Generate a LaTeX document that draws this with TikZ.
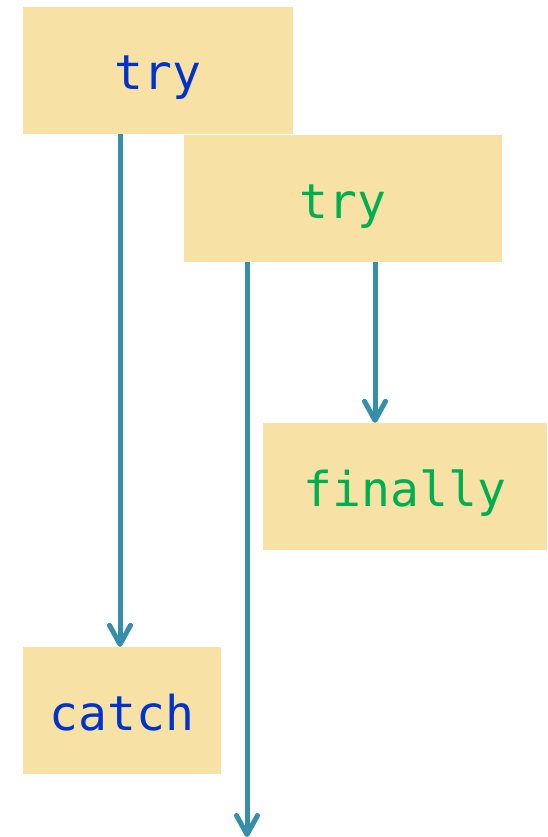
\documentclass[tikz,border=0pt]{standalone}
\usepackage{fontspec}
\newfontfamily\codefont{DejaVu Sans Mono}
\usetikzlibrary{arrows.meta}
\definecolor{boxfill}{HTML}{F8E1A5}
\definecolor{flowline}{HTML}{368FA9}
\definecolor{outerblue}{HTML}{0033CC}
\definecolor{innergreen}{HTML}{00B050}
\begin{document}
\begin{tikzpicture}[x=1pt, y=-1pt,
  block/.style={fill=boxfill, inner sep=0pt, minimum height=127pt,
    text height=44pt, text depth=5pt,
    font=\codefont\fontsize{48}{58}\selectfont},
  flow/.style={flowline, line width=5pt,
    -{Straight Barb[length=19pt, width=21pt, round]}}]
\useasboundingbox (0,0) rectangle (547,837);
% blocks
\node[block, minimum width=270pt, text=outerblue] (try1) at (158,70.5) {try};
\node[block, minimum width=318pt, text=innergreen] (try2) at (343,198.5) {try};
\node[block, minimum width=284pt, text=innergreen] (fin) at (405,486.5) {finally};
\node[block, minimum width=198pt, text=outerblue] (catch) at (122,710.5) {catch};
\coordinate (out) at (247,837);
% arrows
\draw[flow] ([xshift=-2pt]catch.north |- try1.south) -- ([xshift=-2pt]catch.north);
\draw[flow] (out |- try2.south) -- (out);
\draw[flow] ([xshift=-30pt]fin.north |- try2.south) -- ([xshift=-30pt]fin.north);
\end{tikzpicture}
\end{document}
